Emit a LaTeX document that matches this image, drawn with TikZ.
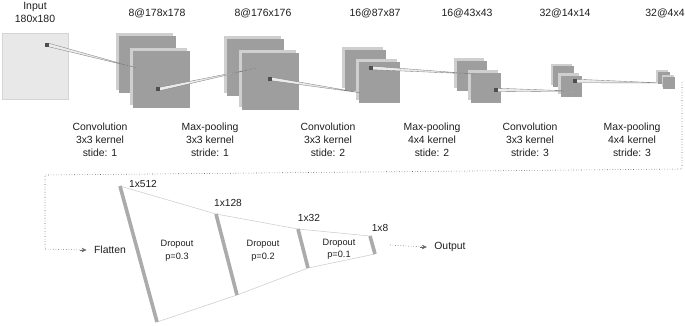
\documentclass[tikz,border=0pt]{standalone}
\usepackage{fontspec}
\setmainfont{Liberation Sans}
\usetikzlibrary{arrows.meta}
\definecolor{mapdark}{HTML}{9E9E9E}
\definecolor{maplight}{HTML}{CFCFCF}
\definecolor{inputfill}{HTML}{E8E8E8}
\definecolor{inputdraw}{HTML}{D4D4D4}
\definecolor{kerncol}{HTML}{4E4E4E}
\definecolor{barcol}{HTML}{ABABAB}
\definecolor{linkcol}{HTML}{CFCFCF}
\definecolor{txtcol}{HTML}{1E1E1E}
\newcommand{\featmap}[5]{%
  \node[shadowsq, minimum size=#4pt] (#1s) at (#2-#5,#3-#5) {};
  \node[mapsq, minimum size=#4pt] (#1) at (#2,#3) {};
}
\begin{document}
\begin{tikzpicture}[x=1pt,y=-1pt,
  every node/.style={text=txtcol},
  shadowsq/.style={fill=maplight, inner sep=0pt, outer sep=0pt},
  mapsq/.style={fill=mapdark, inner sep=0pt, outer sep=0pt},
  inputsq/.style={fill=inputfill, draw=inputdraw, line width=0.6pt, inner sep=0pt, outer sep=0pt},
  kern/.style={fill=kerncol, inner sep=0pt, outer sep=0pt, minimum size=3.5pt},
  wedge/.style={draw=black!50, fill=white!92!black, line width=0.35pt},
  toplabel/.style={font=\fontsize{10.5}{13}\selectfont, align=center},
  oplabel/.style={font=\fontsize{10.4}{13}\selectfont, align=center},
  dimlabel/.style={font=\fontsize{10.2}{12}\selectfont},
  droplabel/.style={font=\fontsize{9.2}{12.5}\selectfont, align=center},
  layerbar/.style={draw=barcol, line width=3.6pt},
  linkline/.style={draw=linkcol, line width=0.6pt},
  flow/.style={draw=black!60, dotted, line width=0.6pt},
  flowtip/.style={-{Stealth[length=5pt,width=4.5pt]}, black!60}
]
\useasboundingbox (0,0) rectangle (685,325);

% ---- feature maps ----
\node[inputsq, minimum size=66pt] (in) at (35,66.5) {};
\featmap{m1b}{147}{64.5}{57}{3}
\featmap{m1f}{161.5}{79}{57}{3}
\featmap{m2b}{255.5}{67.5}{57}{3}
\featmap{m2f}{270.5}{81.5}{57}{3}
\featmap{m3b}{365.5}{70.5}{41}{3}
\featmap{m3f}{379}{82.5}{41}{3}
\featmap{m4b}{472}{75.5}{30}{3}
\featmap{m4f}{486}{87.5}{30}{3}
\featmap{m5b}{563.5}{76.5}{21}{2.5}
\featmap{m5f}{571}{86}{21}{2.5}
\featmap{m6b}{663.5}{77.5}{12}{1.5}
\featmap{m6f}{669}{82.5}{12}{1.5}

% ---- kernels and receptive-field wedges ----
\node[kern] (k0) at (47,45) {};
\node[kern] (k1) at (158,89) {};
\node[kern] (k2) at (270,79) {};
\node[kern] (k3) at (371,68) {};
\node[kern] (k4) at (496,90) {};
\node[kern] (k5) at (575,81) {};
\coordinate (t0) at (137,68);
\coordinate (t1) at (257,68);
\coordinate (t2) at (362,93);
\coordinate (t3) at (475,74);
\coordinate (t4) at (573,91);
\coordinate (t5) at (663,83);
\draw[wedge] (k0.north east) -- (t0) -- (k0.south east);
\draw[wedge] (k1.north east) -- (t1) -- (k1.south east);
\draw[wedge] (k2.north east) -- (t2) -- (k2.south east);
\draw[wedge] (k3.north east) -- (t3) -- (k3.south east);
\draw[wedge] (k4.north east) -- (t4) -- (k4.south east);
\draw[wedge] (k5.north east) -- (t5) -- (k5.south east);
\foreach \k in {k0,k1,k2,k3,k4,k5} {\node[kern] at (\k) {};}

% ---- top labels ----
\node[toplabel] (lin) at (35,12) {Input\\180x180};
\node[toplabel] (l1) at (157,13) {8@178x178};
\node[toplabel] (l2) at (263,13) {8@176x176};
\node[toplabel] (l3) at (375,13) {16@87x87};
\node[toplabel] (l4) at (467,13) {16@43x43};
\node[toplabel] (l5) at (565,13) {32@14x14};
\node[toplabel] (l6) at (665,13) {32@4x4};

% ---- operation labels ----
\node[oplabel] (o1) at (100,140) {Convolution\\3x3 kernel\\stide: 1};
\node[oplabel] (o2) at (210,140) {Max-pooling\\3x3 kernel\\stride: 1};
\node[oplabel] (o3) at (328,140) {Convolution\\3x3 kernel\\stide: 2};
\node[oplabel] (o4) at (432,140) {Max-pooling\\4x4 kernel\\stide: 2};
\node[oplabel] (o5) at (530,140) {Convolution\\3x3 kernel\\stride: 3};
\node[oplabel] (o6) at (632,140) {Max-pooling\\4x4 kernel\\stride: 3};

% ---- dense part ----
\coordinate (b1t) at (120,186); \coordinate (b1b) at (157,322);
\coordinate (b2t) at (216,214); \coordinate (b2b) at (237,295);
\coordinate (b3t) at (298,229); \coordinate (b3b) at (308,268);
\coordinate (b4t) at (370,236); \coordinate (b4b) at (375,254);
\draw[linkline] (b1t) -- (b2t) -- (b3t) -- (b4t);
\draw[linkline] (b1b) -- (b2b) -- (b3b) -- (b4b);
\draw[layerbar] (b1t) -- (b1b);
\draw[layerbar] (b2t) -- (b2b);
\draw[layerbar] (b3t) -- (b3b);
\draw[layerbar] (b4t) -- (b4b);

\node[dimlabel] (d1) at (143,184) {1x512};
\node[dimlabel] (d2) at (228,203) {1x128};
\node[dimlabel] (d3) at (309,218) {1x32};
\node[dimlabel] (d4) at (380,228) {1x8};

\node[droplabel] (p1) at (177,251) {Dropout\\p=0.3};
\node[droplabel] (p2) at (263,251) {Dropout\\p=0.2};
\node[droplabel] (p3) at (339,249.5) {Dropout\\p=0.1};

\node[oplabel] (flat) at (110,250) {Flatten};
\node[oplabel] (out) at (450,247) {Output};

% ---- flow connectors ----
\coordinate (f0) at (682,82);
\coordinate (f1) at (682,169);
\coordinate (f2) at (45,175);
\coordinate (f3) at (45,249);
\draw[flow] (f0) -- (f1) -- (f2) -- (f3) -- ([xshift=-6pt]flat.west);
\draw[flowtip] ([xshift=-11pt]flat.west) -- ([xshift=-4pt]flat.west);
\draw[flow] (390,245) -- ([xshift=-6pt]out.west);
\draw[flowtip] ([xshift=-11pt]out.west) -- ([xshift=-4pt]out.west);
\end{tikzpicture}
\end{document}
